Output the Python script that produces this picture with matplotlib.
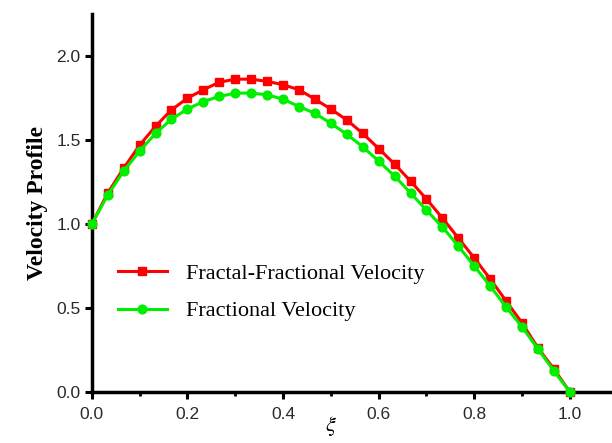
import numpy as np
import matplotlib.pyplot as plt
from matplotlib.ticker import MultipleLocator

plt.rcParams["mathtext.fontset"] = "stix"

xi = [i / 30 for i in range(31)]
frac_frac = [1.0, 1.185, 1.333, 1.47, 1.583, 1.68, 1.75, 1.80, 1.845, 1.863, 1.863,
             1.85, 1.83, 1.80, 1.744, 1.685, 1.62, 1.54, 1.45, 1.357, 1.256, 1.149,
             1.036, 0.917, 0.798, 0.673, 0.542, 0.411, 0.262, 0.137, 0.0]
frac = [1.0, 1.173, 1.315, 1.435, 1.54, 1.625, 1.685, 1.73, 1.76, 1.78, 1.78,
        1.77, 1.744, 1.70, 1.66, 1.60, 1.535, 1.46, 1.375, 1.286, 1.185, 1.083,
        0.982, 0.869, 0.75, 0.631, 0.506, 0.387, 0.256, 0.125, 0.0]

fig = plt.figure(figsize=(6.12, 4.43), dpi=100)
ax = fig.add_axes([0.150, 0.115, 0.85, 0.853])

ax.plot(xi, frac_frac, color="#ff0000", marker="s", markersize=5.5, lw=2.2,
        label="Fractal-Fractional Velocity", clip_on=False, zorder=3)
ax.plot(xi, frac, color="#00ee00", marker="o", markersize=6.3, lw=2.2,
        label="Fractional Velocity", clip_on=False, zorder=4)

ax.set_xlim(0, 1.088)
ax.set_ylim(0, 2.25)
ax.set_xticks([0, 0.2, 0.4, 0.6, 0.8, 1.0])
ax.xaxis.set_minor_locator(MultipleLocator(0.1))
ax.set_yticks([0, 0.5, 1.0, 1.5, 2.0])

for s in ["top", "right"]:
    ax.spines[s].set_visible(False)
for s in ["left", "bottom"]:
    ax.spines[s].set_linewidth(2.5)

ax.tick_params(which="major", direction="out", length=5, width=2.2,
               labelsize=12.5, pad=3, labelcolor="#2a2a2a")
ax.tick_params(axis="x", which="major", pad=6)
ax.tick_params(which="minor", direction="out", length=3, width=2)
for lab in ax.get_xticklabels() + ax.get_yticklabels():
    lab.set_family("Liberation Sans")

ax.set_ylabel("Velocity Profile", family="Liberation Serif", fontweight="bold",
              fontsize=17, labelpad=6)
ax.set_xlabel(r"$\xi$", fontsize=16, va="center")
ax.xaxis.set_label_coords(0.5 / 1.088, -0.09)

ax.legend(loc="center left", bbox_to_anchor=(118 / 612, 1 - 292.5 / 443),
          bbox_transform=fig.transFigure, frameon=False,
          prop={"family": "Liberation Serif", "size": 16},
          handlelength=2.2, handletextpad=0.86, labelspacing=0.75,
          borderpad=0, borderaxespad=0)

fig.savefig("out.png", dpi=100)
